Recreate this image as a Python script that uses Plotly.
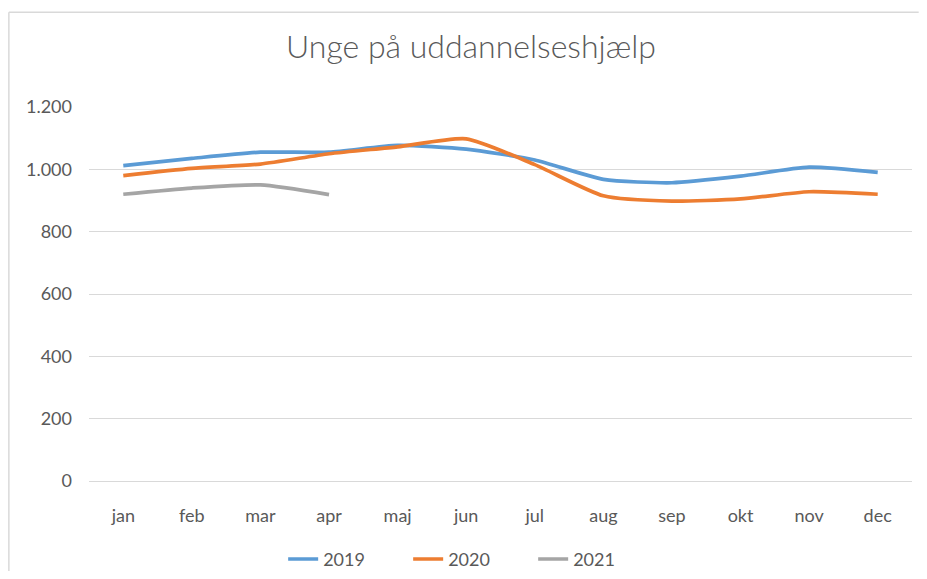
import plotly.graph_objects as go

months = ["jan", "feb", "mar", "apr", "maj", "jun", "jul", "aug", "sep", "okt", "nov", "dec"]
y2019 = [1012, 1035, 1055, 1055, 1077, 1065, 1030, 968, 957, 978, 1007, 990]
y2020 = [980, 1003, 1017, 1050, 1072, 1098, 1015, 915, 898, 905, 928, 920]
y2021 = [920, 940, 950, 919]
yticks = [0, 200, 400, 600, 800, 1000, 1200]
yticklabels = ["0", "200", "400", "600", "800", "1.000", "1.200"]

# page has an 8px body margin; keep the whole page inside the 927x579 window
OFF = 8
W, H = 927 - 2 * OFF, 579 - 2 * OFF
L, T = 88.7 - OFF, 106.7 - OFF
R, B = W - (912.3 - OFF), H - (480.7 - OFF)
pw, ph = W - L - R, H - T - B

fig = go.Figure()
for name, vals, col in [("2019", y2019, "#5B9BD5"), ("2020", y2020, "#ED7D31"), ("2021", y2021, "#A5A5A5")]:
    fig.add_trace(go.Scatter(x=months[:len(vals)], y=vals, name=name, mode="lines",
                             line=dict(color=col, width=3.7, shape="spline", smoothing=0.6)))

font = "Lato, 'Open Sans', sans-serif"
fig.update_layout(
    width=W, height=H,
    margin=dict(l=L, r=R, t=T, b=B, autoexpand=False),
    paper_bgcolor="white", plot_bgcolor="white",
    font=dict(family=font, color="#595959", size=18),
    title=dict(text="Unge på uddannelseshjælp", x=(471 - OFF) / W, xanchor="center", y=1 - (47 - OFF) / H,
               yanchor="middle", font=dict(size=32, color="#595959", family=font, weight=300)),
    xaxis=dict(type="category", categoryorder="array", categoryarray=months, range=[-0.5, 11.5],
               showgrid=False, showline=False, ticks="", ticklabelstandoff=22, automargin=False),
    yaxis=dict(range=[0, 1200], tickvals=yticks, ticktext=yticklabels, showgrid=True,
               gridcolor="#D9D9D9", gridwidth=1, zeroline=True, zerolinecolor="#D9D9D9", zerolinewidth=1,
               showline=False, ticks="", ticklabelstandoff=16, automargin=False),
    legend=dict(orientation="h", x=(288 - OFF - 5 - L) / pw, xanchor="left",
                y=-(559 - 480.7) / ph, yanchor="middle", entrywidth=80, entrywidthmode="pixels",
                font=dict(size=18, color="#595959")),
    shapes=[
        dict(type="line", xref="paper", yref="paper", x0=-(L - 0.5) / pw, x1=(W - L) / pw,
             y0=1 + (T - 4) / ph, y1=1 + (T - 4) / ph, line=dict(color="#D9D9D9", width=1.5)),
        dict(type="line", xref="paper", yref="paper", x0=-(L - 0.5) / pw, x1=-(L - 0.5) / pw,
             y0=-B / ph, y1=1 + (T - 4) / ph, line=dict(color="#D9D9D9", width=1.5)),
    ],
)
fig.write_html("out.html")
